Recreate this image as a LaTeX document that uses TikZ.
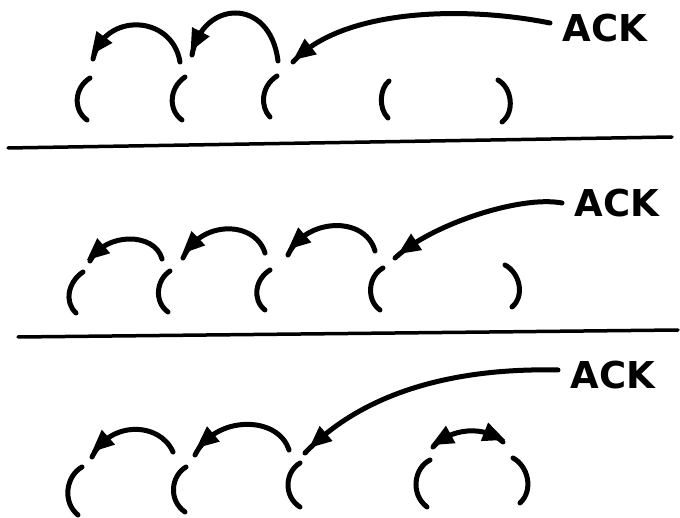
\documentclass[tikz,border=0pt]{standalone}
\usepackage{fontspec}
\setmainfont{DejaVu Sans}
\usetikzlibrary{shapes.geometric}
\tikzset{
  ink/.style={line width=5pt,line cap=round,line join=round},
  rule/.style={line width=3.5pt,line cap=round},
  ack/.style={inner sep=0pt,font=\fontsize{37}{37}\selectfont\bfseries},
  hd/.style={shape=isosceles triangle,isosceles triangle stretches,
    minimum width=20pt,minimum height=22pt,inner sep=0pt,fill=black,draw=none,
    sloped,allow upside down,pos=#1},
  tl/.style={hd=#1,shape border rotate=180}
}
\begin{document}
\begin{tikzpicture}[x=1pt,y=-1pt]
\useasboundingbox (0,0) rectangle (680,518);

% separators
\draw[rule] (8,148) -- (672,137);
\draw[rule] (18,337) -- (678,330);

% ---------- panel 1 ----------
\node[ack] (ack1) at (605,28) {ACK};
\coordinate (t1) at (550,23);
\coordinate (h1) at (293,62);
\draw[ink] (90,78) .. controls (74,88) and (73,110) .. (87,120);
\draw[ink] (185,77) .. controls (169,88) and (168,110) .. (182,120);
\draw[ink] (277,76) .. controls (261,86) and (260,107) .. (270,117);
\draw[ink] (389,81) .. controls (380,88) and (378,108) .. (388,118);
\draw[ink] (498,80) .. controls (512,88) and (515,112) .. (502,122);
\draw[ink] (180,62) .. controls (172,14) and (104,12) .. (93,59) node[hd=0.86] (a1) {};
\draw[ink] (278,61) .. controls (270,-4) and (202,0) .. (192,55) node[hd=0.88] (a2) {};
\draw[ink] (t1) .. controls (460,5) and (340,10) .. (h1) node[hd=0.92] (a3) {};

% ---------- panel 2 ----------
\node[ack] (ack2) at (617,203) {ACK};
\coordinate (t2) at (562,203);
\coordinate (h2) at (395,258);
\draw[ink] (83,272) .. controls (68,282) and (64,302) .. (76,313);
\draw[ink] (170,271) .. controls (156,280) and (154,302) .. (168,312);
\draw[ink] (270,270) .. controls (255,279) and (252,300) .. (265,310);
\draw[ink] (383,268) .. controls (368,276) and (366,300) .. (380,310);
\draw[ink] (505,265) .. controls (520,273) and (525,296) .. (512,307);
\draw[ink] (162,259) .. controls (155,232) and (105,232) .. (90,261) node[hd=0.85] (b1) {};
\draw[ink] (265,253) .. controls (255,220) and (200,220) .. (183,258) node[hd=0.84] (b2) {};
\draw[ink] (375,251) .. controls (365,215) and (305,218) .. (288,255) node[hd=0.83] (b3) {};
\draw[ink] (t2) .. controls (520,195) and (430,225) .. (h2) node[hd=0.87] (b4) {};

% ---------- panel 3 ----------
\node[ack] (ack3) at (613,375) {ACK};
\coordinate (t3) at (558,370);
\coordinate (h3) at (305,453);
\draw[ink] (82,467) .. controls (66,476) and (62,502) .. (78,515);
\draw[ink] (186,467) .. controls (171,476) and (168,500) .. (185,512);
\draw[ink] (300,463) .. controls (285,472) and (283,496) .. (300,507);
\draw[ink] (430,460) .. controls (414,468) and (410,494) .. (427,507);
\draw[ink] (513,458) .. controls (528,466) and (534,490) .. (520,503);
\draw[ink] (173,452) .. controls (160,422) and (110,420) .. (92,457) node[hd=0.83] (c1) {};
\draw[ink] (289,450) .. controls (278,415) and (215,415) .. (195,455) node[hd=0.83] (c2) {};
\draw[ink] (t3) .. controls (470,368) and (370,385) .. (h3) node[hd=0.92] (c3) {};
\draw[ink] (433,447) .. controls (450,428) and (485,425) .. (503,442)
  node[tl=0.2] (d1) {} node[hd=0.8] (d2) {};
\end{tikzpicture}
\end{document}
